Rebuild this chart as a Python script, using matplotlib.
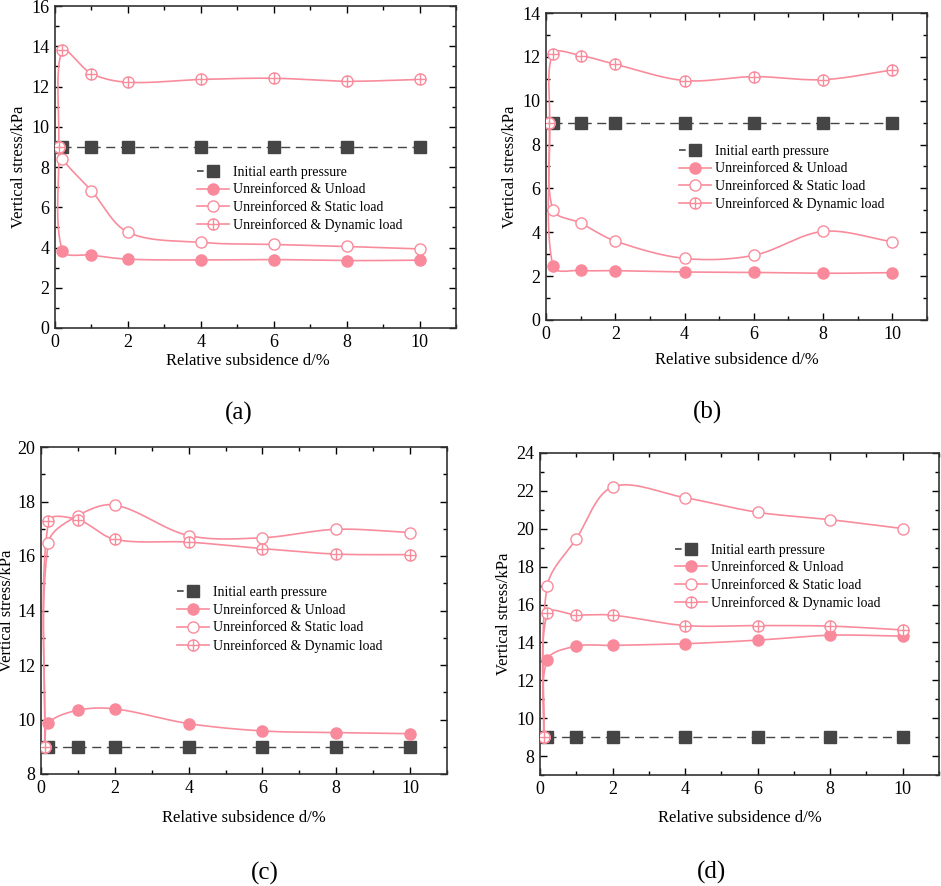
import numpy as np
import matplotlib
matplotlib.use("Agg")
import matplotlib.pyplot as plt
from matplotlib.path import Path
from matplotlib.ticker import MultipleLocator

plt.rcParams['font.family'] = ['Liberation Serif', 'DejaVu Serif']

# relative subsidence (%)
x_pink = [0.1, 0.2, 1, 2, 4, 6, 8, 10]
x_init = [0.2, 1, 2, 4, 6, 8, 10]
init_pressure = [9, 9, 9, 9, 9, 9, 9]

# (a)
a_unload = [9, 3.85, 3.62, 3.42, 3.38, 3.40, 3.35, 3.37]
a_static = [9, 8.40, 6.82, 4.76, 4.25, 4.15, 4.05, 3.93]
a_dynamic = [9, 13.79, 12.64, 12.21, 12.35, 12.41, 12.26, 12.35]
# (b)
b_unload = [9, 2.44, 2.26, 2.25, 2.19, 2.17, 2.13, 2.16]
b_static = [9, 5.03, 4.42, 3.60, 2.81, 2.95, 4.04, 3.57]
b_dynamic = [9, 12.15, 12.06, 11.66, 10.92, 11.10, 10.96, 11.40]
# (c)
c_unload = [9, 9.87, 10.34, 10.39, 9.85, 9.58, 9.52, 9.48]
c_static = [9, 16.48, 17.48, 17.87, 16.75, 16.67, 16.98, 16.86]
c_dynamic = [9, 17.27, 17.33, 16.61, 16.51, 16.27, 16.07, 16.05]
# (d)
d_unload = [9, 13.08, 13.80, 13.84, 13.93, 14.12, 14.38, 14.33]
d_static = [9, 16.97, 19.47, 22.21, 21.64, 20.87, 20.48, 20.01]
d_dynamic = [9, 15.54, 15.45, 15.44, 14.89, 14.89, 14.86, 14.66]

panel_labels = ['(a)', '(b)', '(c)', '(d)']
legend_labels = ['Initial earth pressure', 'Unreinforced & Unload',
                 'Unreinforced & Static load', 'Unreinforced & Dynamic load']

PINK = '#F98C9C'
PINK_FILL = '#F98A9B'
DARK = '#454545'


def screen_spline(x, y, sx, sy, n=40):
    """smooth curve through the points, Hermite/Catmull-Rom in screen space"""
    P = np.column_stack([np.asarray(x, float) * sx, np.asarray(y, float) * sy])
    t = np.concatenate([[0], np.cumsum(np.hypot(*np.diff(P, axis=0).T))])
    m = len(P)
    T = np.zeros_like(P)
    T[0] = (P[1] - P[0]) / (t[1] - t[0])
    T[-1] = (P[-1] - P[-2]) / (t[-1] - t[-2])
    for i in range(1, m - 1):
        T[i] = (P[i + 1] - P[i - 1]) / (t[i + 1] - t[i - 1])
    pts = []
    s = np.linspace(0, 1, n)[:, None]
    h00 = 2 * s ** 3 - 3 * s ** 2 + 1
    h10 = s ** 3 - 2 * s ** 2 + s
    h01 = -2 * s ** 3 + 3 * s ** 2
    h11 = s ** 3 - s ** 2
    for i in range(m - 1):
        dt = t[i + 1] - t[i]
        seg = h00 * P[i] + h10 * dt * T[i] + h01 * P[i + 1] + h11 * dt * T[i + 1]
        pts.append(seg)
    pts = np.vstack(pts)
    return pts[:, 0] / sx, pts[:, 1] / sy


# circle with a cross inside
cross_circle = Path.make_compound_path(
    Path.unit_circle(),
    Path([(-1, 0), (1, 0)], [Path.MOVETO, Path.LINETO]),
    Path([(0, -1), (0, 1)], [Path.MOVETO, Path.LINETO]),
)

panels = [
    (a_unload, a_static, a_dynamic, (0, 16)),
    (b_unload, b_static, b_dynamic, (0, 14)),
    (c_unload, c_static, c_dynamic, (8, 20)),
    (d_unload, d_static, d_dynamic, (7, 24)),
]

W, H = 941, 886
# axes boxes in pixels: left, top, right, bottom
boxes = [(55, 6, 456, 328), (546, 13, 927, 320), (41, 447, 447, 774), (540, 453, 939, 775)]
legend_pos = [(0.337, 0.525), (0.331, 0.593), (0.318, 0.595), (0.321, 0.74)]
xlabel_y = [-0.078, -0.105, -0.11, -0.11]
ylabel_px = [28, 28, 26, 28]
label_pos = [(239, 413), (707, 412), (265, 873), (712, 872)]

fig = plt.figure(figsize=(W / 100, H / 100), dpi=100)

for k, (unl, sta, dyn, ylim) in enumerate(panels):
    l, t, r, b = boxes[k]
    ax = fig.add_axes([l / W, 1 - b / H, (r - l) / W, (b - t) / H])
    sx = (r - l) / 11.0
    sy = (b - t) / (ylim[1] - ylim[0])

    ax.plot(x_init, init_pressure, ls=(0, (6.5, 4)), lw=1.0, color=DARK,
            marker='s', ms=8.8, mfc=DARK, mec=DARK, zorder=2)
    # legend handle: dash to the left of the square, as in the original
    h0, = ax.plot([], [], ls=(0, (4, 20)), lw=1.2, color=DARK,
                  marker='s', ms=8.8, mfc=DARK, mec=DARK)
    handles = [h0]
    styles = [
        dict(marker='o', ms=8, mfc=PINK_FILL, mec=PINK_FILL),
        dict(marker='o', ms=8, mfc='white', mec=PINK, mew=1.0),
        dict(marker=cross_circle, ms=8, mfc='white', mec=PINK, mew=1.0),
    ]
    for ys, st in zip([unl, sta, dyn], styles):
        cx, cy = screen_spline(x_pink, ys, sx, sy)
        ax.plot(cx, cy, color=PINK, lw=1.2, zorder=3)
        ax.plot(x_pink, ys, ls='none', zorder=4, **st)
        hd, = ax.plot([], [], color=PINK, lw=1.2, **st)
        handles.append(hd)

    ax.set_xlim(0, 11)
    ax.set_ylim(*ylim)
    ax.set_xticks(range(0, 11, 2))
    ax.xaxis.set_minor_locator(MultipleLocator(1))
    ax.yaxis.set_major_locator(MultipleLocator(2))
    ax.yaxis.set_minor_locator(MultipleLocator(1))
    ax.tick_params(which='both', direction='in', top=True, right=True, labelsize=13,
                   width=1.0, pad=4)
    ax.tick_params(which='major', length=5)
    ax.tick_params(which='minor', length=3)
    for sp in ax.spines.values():
        sp.set_linewidth(1.2)
        sp.set_color('#333333')

    ax.set_xlabel('Relative subsidence d/%', fontsize=12)
    ax.set_ylabel('Vertical stress/kPa', fontsize=12)
    ax.xaxis.set_label_coords(0.48 if k == 0 else 0.5, xlabel_y[k])
    ax.yaxis.set_label_coords(-ylabel_px[k] / (r - l), 0.5)

    ax.legend(handles, legend_labels, loc='upper left', bbox_to_anchor=legend_pos[k],
              frameon=False, fontsize=9.9, handlelength=2.3, handletextpad=0.3,
              labelspacing=0.33, borderpad=0)

    fig.text(label_pos[k][0] / W, 1 - label_pos[k][1] / H, panel_labels[k],
             ha='center', va='center', fontsize=18)

fig.savefig('out.png', dpi=100)
